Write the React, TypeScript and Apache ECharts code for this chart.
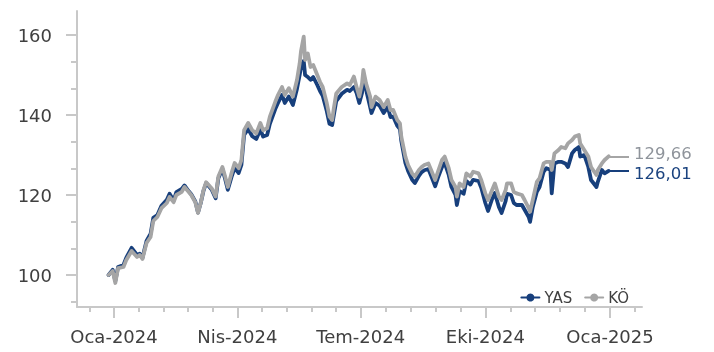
import React, { useEffect, useRef } from "react";
import * as echarts from "echarts";

const seriesNames = ["YAS", "KÖ"];

const dates = [
  "2023-12-28", "2023-12-31", "2024-01-02", "2024-01-04", "2024-01-08", "2024-01-10", "2024-01-14", "2024-01-18",
  "2024-01-20", "2024-01-22", "2024-01-25", "2024-01-28", "2024-01-30", "2024-02-02", "2024-02-05", "2024-02-09",
  "2024-02-11", "2024-02-14", "2024-02-16", "2024-02-20", "2024-02-22", "2024-02-25", "2024-02-27", "2024-03-01",
  "2024-03-03", "2024-03-05", "2024-03-07", "2024-03-09", "2024-03-13", "2024-03-16", "2024-03-18", "2024-03-21",
  "2024-03-23", "2024-03-25", "2024-03-28", "2024-03-30", "2024-04-02", "2024-04-04", "2024-04-06", "2024-04-09",
  "2024-04-12", "2024-04-15", "2024-04-18", "2024-04-20", "2024-04-23", "2024-04-25", "2024-04-29", "2024-05-01",
  "2024-05-04", "2024-05-06", "2024-05-09", "2024-05-12", "2024-05-15", "2024-05-17", "2024-05-18", "2024-05-20",
  "2024-05-21", "2024-05-23", "2024-05-25", "2024-05-27", "2024-05-30", "2024-06-01", "2024-06-03", "2024-06-06",
  "2024-06-08", "2024-06-10", "2024-06-11", "2024-06-13", "2024-06-17", "2024-06-21", "2024-06-23", "2024-06-26",
  "2024-06-28", "2024-06-30", "2024-07-02", "2024-07-03", "2024-07-05", "2024-07-08", "2024-07-09", "2024-07-12",
  "2024-07-15", "2024-07-18", "2024-07-21", "2024-07-23", "2024-07-25", "2024-07-28", "2024-07-30", "2024-07-31",
  "2024-08-03", "2024-08-05", "2024-08-08", "2024-08-10", "2024-08-13", "2024-08-15", "2024-08-17", "2024-08-20",
  "2024-08-22", "2024-08-25", "2024-08-27", "2024-08-30", "2024-09-01", "2024-09-04", "2024-09-06", "2024-09-09",
  "2024-09-10", "2024-09-12", "2024-09-15", "2024-09-17", "2024-09-20", "2024-09-22", "2024-09-26", "2024-09-28",
  "2024-10-01", "2024-10-03", "2024-10-06", "2024-10-08", "2024-10-11", "2024-10-13", "2024-10-16", "2024-10-17",
  "2024-10-20", "2024-10-22", "2024-10-24", "2024-10-28", "2024-10-30", "2024-11-02", "2024-11-03", "2024-11-05",
  "2024-11-08", "2024-11-10", "2024-11-13", "2024-11-15", "2024-11-18", "2024-11-19", "2024-11-21", "2024-11-24",
  "2024-11-26", "2024-11-29", "2024-12-01", "2024-12-04", "2024-12-06", "2024-12-09", "2024-12-10", "2024-12-13",
  "2024-12-16", "2024-12-18", "2024-12-22", "2024-12-23", "2024-12-26", "2024-12-28", "2024-12-31",
];

const yasValues = [
  100, 101.3, 98.5, 102, 102.5, 104.3, 106.8, 105,
  105.3, 104.3, 108.5, 110.3, 114.3, 115, 117.3, 118.8,
  120.3, 118.6, 120.7, 121.5, 122.4, 121, 120.2, 118.4,
  115.6, 118, 121, 123, 121.4, 119.2, 124.2, 126.5,
  124, 121.3, 124.8, 126.8, 125.5, 127.5, 135, 136.5,
  134.7, 134, 136.4, 134.6, 135, 137.8, 141.5, 143,
  145, 143, 144.6, 142.5, 146.5, 150, 152, 153.5,
  150, 149.5, 148.8, 149.5, 147.5, 146, 144.8, 141,
  137.8, 137.5, 139.5, 143.5, 145.3, 146.3, 146, 147,
  145.5, 143, 145.5, 149, 146.3, 142, 140.5, 143,
  142.3, 140.5, 142, 139.5, 139.6, 137.3, 136.5, 133.5,
  128, 126, 123.8, 123, 124.8, 125.7, 126.2, 126.5,
  124.8, 122.2, 124.3, 127, 128, 125, 122, 120,
  117.5, 121, 120.3, 123.5, 122.6, 123.8, 123.5, 121.8,
  118, 116, 119, 120.5, 117, 115.5, 118.5, 120.3,
  120, 118, 117.5, 117.5, 116.3, 114.5, 113.3, 117,
  120.8, 122, 125.8, 126.7, 126.3, 120.4, 127.9, 128.3,
  128.3, 127.9, 127, 130.4, 131.25, 132, 129.6, 130,
  127, 123.75, 122, 123.3, 126.25, 125.4, 126.01,
];

const koValues = [
  100, 101, 98, 101.7, 102, 103.7, 106, 104.5,
  105, 104, 108, 109.5, 113.5, 114.5, 116.7, 118,
  119.5, 118.2, 120, 120.8, 122, 120.8, 120, 118.2,
  115.5, 118, 121.2, 123.2, 121.7, 119.6, 124.6, 127,
  124.6, 122, 125.8, 128, 126.7, 128.7, 136.2, 138,
  136.2, 135.4, 138, 136.2, 136.7, 139.6, 143.3, 145,
  147, 145, 146.7, 144.6, 148.75, 152.9, 156, 159.6,
  153.75, 155.4, 152, 152.5, 150, 148.3, 147, 143,
  139.6, 138.75, 141.25, 145.4, 147, 147.9, 147.5, 149.6,
  147, 144.6, 147.9, 151.25, 147.9, 144.6, 142, 144.6,
  143.75, 142, 143.75, 141.25, 141.25, 138.75, 137.9, 134.6,
  129.6, 127.5, 125.4, 124.6, 126.25, 127, 127.5, 127.9,
  126.25, 123.75, 125.8, 128.75, 129.6, 126.7, 123.75, 122,
  119.6, 122.9, 122, 125.4, 124.6, 125.8, 125.4, 123.75,
  120.4, 118.75, 121.25, 122.9, 119.6, 118.75, 121.25, 122.9,
  122.9, 120.8, 120.4, 120, 118.75, 116.7, 115.8, 118.75,
  123.3, 124.2, 127.9, 128.3, 128.3, 126.25, 130.4, 131.25,
  132, 131.7, 132.9, 133.75, 134.6, 135, 132.9, 131.25,
  129.6, 127, 125, 126.25, 127.9, 128.75, 129.66,
];

const xTickDates = ["2024-01-01", "2024-04-01", "2024-07-01", "2024-10-01", "2025-01-01"];
const xTickLabels = ["Oca-2024", "Nis-2024", "Tem-2024", "Eki-2024", "Oca-2025"];
const yTicks = [100, 120, 140, 160];

const colors = ["#173f7c", "#a5a5a5"];
const labelColors = ["#1b437f", "#8f949b"];

const DAY = 86400000;
const BASE = Date.UTC(2024, 0, 1);
const toDay = (s: string) => {
  const [y, m, d] = s.split("-").map(Number);
  return (Date.UTC(y, m - 1, d) - BASE) / DAY;
};
const fmt = (v: number) => v.toFixed(2).replace(".", ",");

export default function App() {
  const ref = useRef<HTMLDivElement>(null);
  useEffect(() => {
    if (!ref.current) return;
    const chart = echarts.init(ref.current, null, { renderer: "svg" });
    const font = "DejaVu Sans";
    const majorDays = xTickDates.map(toDay);
    const minorDays: number[] = [];
    minorDays.push(majorDays[0] - (majorDays[1] - majorDays[0]) / 5);
    for (let i = 0; i < majorDays.length - 1; i++) {
      const step = (majorDays[i + 1] - majorDays[i]) / 5;
      for (let k = 1; k < 5; k++) minorDays.push(majorDays[i] + k * step);
    }
    const lastStep = (majorDays[majorDays.length - 1] - majorDays[majorDays.length - 2]) / 5;
    minorDays.push(majorDays[majorDays.length - 1] + lastStep);
    const yStep = (yTicks[1] - yTicks[0]) / 3;
    const yMinor: number[] = [yTicks[0] - yStep];
    for (let i = 0; i < yTicks.length - 1; i++) {
      yMinor.push(yTicks[i] + yStep, yTicks[i] + 2 * yStep);
    }
    const xMin = -27.3;
    const xMax = 389.6;
    const yMin = 92;
    const yMax = 166;
    const axisColor = "#c8c8c8";
    const allValues = [yasValues, koValues];
    const lastDay = toDay(dates[dates.length - 1]);
    const labelShift = [2.5, -2.5];

    chart.setOption({
      animation: false,
      grid: { left: 77, right: 72, top: 11, bottom: 45 },
      legend: {
        data: seriesNames,
        right: 80,
        top: 285,
        itemWidth: 18,
        itemHeight: 10,
        itemGap: 12,
        textStyle: { fontSize: 15, color: "#404040", fontFamily: font },
      },
      xAxis: [
        {
          type: "value",
          min: xMin,
          max: xMax,
          position: "bottom",
          axisLine: { show: true, onZero: false, lineStyle: { color: axisColor, width: 2 } },
          axisTick: { show: true, customValues: majorDays, length: 11, lineStyle: { color: axisColor, width: 2 } },
          axisLabel: {
            customValues: majorDays,
            formatter: (v: number) => {
              const i = majorDays.findIndex((d) => Math.abs(d - v) < 0.5);
              return i >= 0 ? xTickLabels[i] : "";
            },
            margin: 20,
            fontSize: 18,
            color: "#404040",
            fontFamily: font,
          },
          splitLine: { show: false },
        },
        {
          type: "value",
          min: xMin,
          max: xMax,
          position: "bottom",
          axisLine: { show: false, onZero: false },
          axisTick: { show: true, customValues: minorDays, length: 5, lineStyle: { color: axisColor, width: 2 } },
          axisLabel: { show: false },
          splitLine: { show: false },
        },
      ],
      yAxis: [
        {
          type: "value",
          min: yMin,
          max: yMax,
          position: "left",
          axisLine: { show: true, onZero: false, lineStyle: { color: axisColor, width: 2 } },
          axisTick: { show: true, customValues: yTicks, length: 11, lineStyle: { color: axisColor, width: 2 } },
          axisLabel: {
            customValues: yTicks,
            margin: 25,
            fontSize: 18,
            color: "#404040",
            fontFamily: font,
          },
          splitLine: { show: false },
        },
        {
          type: "value",
          min: yMin,
          max: yMax,
          position: "left",
          axisLine: { show: false, onZero: false },
          axisTick: { show: true, customValues: yMinor, length: 6, lineStyle: { color: axisColor, width: 2 } },
          axisLabel: { show: false },
          splitLine: { show: false },
        },
      ],
      series: seriesNames.map((name, si) => {
        const vals = allValues[si];
        const last = vals[vals.length - 1];
        return {
          name,
          type: "line",
          xAxisIndex: 0,
          yAxisIndex: 0,
          data: dates.map((d, i) => [toDay(d), vals[i]]),
          showSymbol: false,
          symbol: "circle",
          symbolSize: 9,
          z: 2 + si,
          lineStyle: { color: colors[si], width: 3.8, join: "round", cap: "round" },
          itemStyle: { color: colors[si] },
          markLine: {
            silent: true,
            symbol: ["none", "none"],
            lineStyle: { color: colors[si], width: 2, type: "solid" },
            label: {
              show: true,
              position: "end",
              distance: 5,
              offset: [0, labelShift[si]],
              formatter: () => fmt(last),
              color: labelColors[si],
              fontSize: 16.5,
              lineHeight: 13,
              fontFamily: font,
            },
            data: [[{ coord: [lastDay, last] }, { coord: [lastDay + 15, last] }]],
          },
        };
      }),
    });
    return () => chart.dispose();
  }, []);
  return <div ref={ref} style={{ position: "fixed", left: 0, top: 0, width: 714, height: 352 }} />;
}
